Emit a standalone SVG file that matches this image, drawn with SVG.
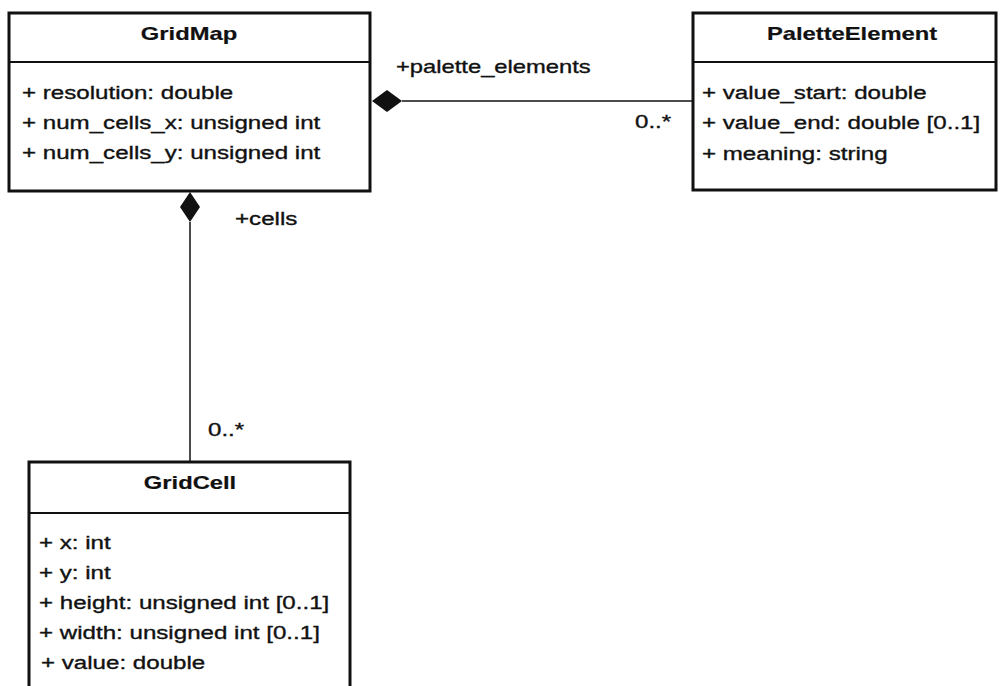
<svg xmlns="http://www.w3.org/2000/svg" width="1000" height="686" viewBox="0 0 1000 686">
<style>
.box{fill:#fff;stroke:#111;stroke-width:3}
.div{stroke:#111;stroke-width:2}
.t{font-family:"Liberation Sans",Arial,sans-serif;font-size:19px;fill:#111;stroke:#111;stroke-width:0.35}
.b{font-weight:bold;text-anchor:middle;stroke-width:0.2}
.ln{stroke:#111;stroke-width:1.5;fill:none}
</style>
<rect width="1000" height="686" fill="#fff"/>
<g id="connectors">
<line class="ln" x1="402" y1="101" x2="692" y2="101"/>
<polygon points="372,101 387,90 402,101 387,112" fill="#111"/>
<text class="t" transform="matrix(1.25 0 0 1 396 73)">+palette_elements</text>
<text class="t" transform="matrix(1.27 0 0 1 635 128)">0..*</text>
<line class="ln" x1="190" y1="222" x2="190" y2="462"/>
<polygon points="190,192 200,207 190,222 180,207" fill="#111"/>
<text class="t" transform="matrix(1.27 0 0 1 235 225)">+cells</text>
<text class="t" transform="matrix(1.27 0 0 1 208 436)">0..*</text>
</g>
<g id="GridMap">
<rect class="box" x="9" y="13" width="361" height="178"/>
<line class="div" x1="9" y1="62" x2="370" y2="62"/>
<text class="t b" transform="matrix(1.25 0 0 1 189 40)">GridMap</text>
<text class="t" transform="matrix(1.27 0 0 1 22 99)">+ resolution: double</text>
<text class="t" transform="matrix(1.27 0 0 1 22 129)">+ num_cells_x: unsigned int</text>
<text class="t" transform="matrix(1.27 0 0 1 22 159)">+ num_cells_y: unsigned int</text>
</g>
<g id="PaletteElement">
<rect class="box" x="693" y="13" width="303" height="177"/>
<line class="div" x1="693" y1="62" x2="996" y2="62"/>
<text class="t b" transform="matrix(1.25 0 0 1 852 40)">PaletteElement</text>
<text class="t" transform="matrix(1.27 0 0 1 702 99)">+ value_start: double</text>
<text class="t" transform="matrix(1.27 0 0 1 702 129)">+ value_end: double [0..1]</text>
<text class="t" transform="matrix(1.27 0 0 1 702 160)">+ meaning: string</text>
</g>
<g id="GridCell">
<rect class="box" x="29" y="462" width="321" height="240"/>
<line class="div" x1="29" y1="513" x2="350" y2="513"/>
<text class="t b" transform="matrix(1.25 0 0 1 190 489)">GridCell</text>
<text class="t" transform="matrix(1.27 0 0 1 39 549)">+ x: int</text>
<text class="t" transform="matrix(1.27 0 0 1 39 579)">+ y: int</text>
<text class="t" transform="matrix(1.27 0 0 1 39 609)">+ height: unsigned int [0..1]</text>
<text class="t" transform="matrix(1.27 0 0 1 39 639)">+ width: unsigned int [0..1]</text>
<text class="t" transform="matrix(1.27 0 0 1 41 669)">+ value: double</text>
</g>
</svg>
